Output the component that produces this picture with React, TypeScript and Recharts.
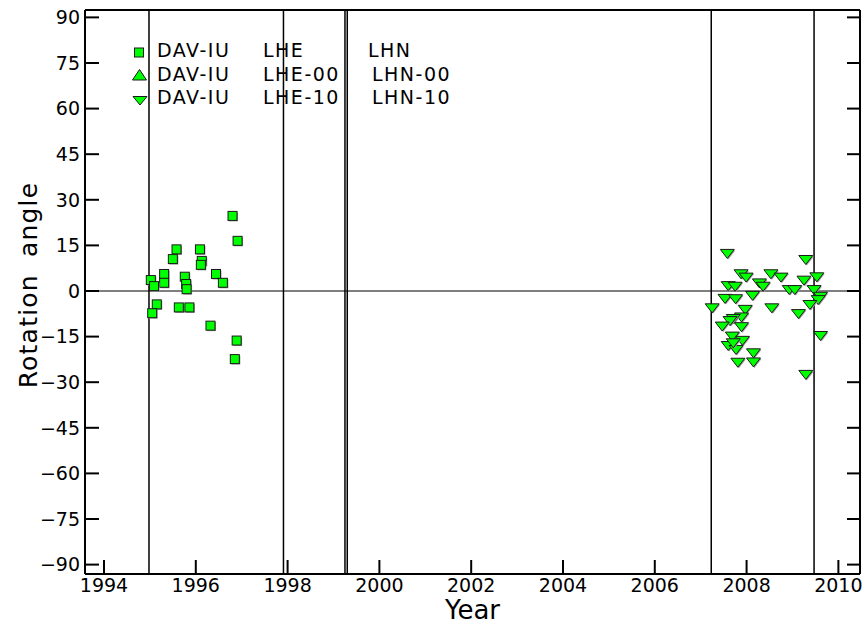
import React from 'react';
import { ScatterChart, Scatter, XAxis, YAxis, ReferenceLine, Legend } from 'recharts';

const FONT = '"DejaVu Sans", sans-serif';
const GREEN = '#00ff00';

// DAV-IU LHE / LHN (squares)
const lheYears = [1996.80, 1996.91, 1995.58, 1996.09, 1995.50, 1996.13, 1996.11, 1995.31, 1996.44, 1995.76, 1995.02, 1995.31, 1996.59, 1995.09, 1995.79, 1995.80, 1995.15, 1995.05, 1995.63, 1995.86, 1996.32, 1996.89, 1996.85];
const lheAngles = [24.7, 16.5, 13.7, 13.7, 10.5, 9.9, 8.6, 5.6, 5.6, 4.7, 3.6, 2.7, 2.7, 1.6, 2.3, 0.6, -4.4, -7.3, -5.4, -5.4, -11.4, -16.3, -22.4];

// DAV-IU LHE-00 / LHN-00 (up triangles) - nothing plotted
const lhe00Years: number[] = [];
const lhe00Angles: number[] = [];

// DAV-IU LHE-10 / LHN-10 (down triangles)
const lhe10Years = [2007.58, 2009.29, 2007.88, 2007.99, 2008.53, 2008.75, 2008.28, 2008.36, 2007.60, 2007.75, 2009.25, 2009.53, 2008.93, 2009.05, 2009.47, 2008.13, 2007.53, 2007.76, 2009.61, 2009.56, 2009.38, 2007.25, 2008.55, 2007.97, 2009.13, 2007.89, 2007.71, 2007.64, 2007.89, 2007.47, 2007.69, 2007.91, 2007.60, 2007.77, 2009.61, 2008.15, 2008.15, 2007.81, 2009.29, 2007.71];
const lhe10Angles = [12.2, 10.2, 5.5, 4.4, 5.5, 4.4, 2.5, 1.4, 1.6, 1.4, 3.4, 4.5, 0.3, 0.3, 0.3, -1.6, -2.6, -2.7, -1.9, -3.0, -4.6, -5.7, -5.7, -6.2, -7.6, -8.7, -9.2, -9.9, -11.9, -11.7, -15.0, -16.4, -18.1, -19.4, -14.8, -20.5, -23.5, -23.6, -27.6, -17.2];

// epoch boundaries (vertical lines)
const epochs = [1994.98, 1997.91, 1999.25, 1999.30, 2007.23, 2009.47];

const xTicks = [1994, 1996, 1998, 2000, 2002, 2004, 2006, 2008, 2010];
const yTicks = [-90, -75, -60, -45, -30, -15, 0, 15, 30, 45, 60, 75, 90];

const zip = (xs: number[], ys: number[]) => xs.map((x, i) => ({ x, y: ys[i] }));

const SquareMark = (props: any) => {
  const { cx, cy } = props;
  if (cx == null || cy == null) return <g />;
  return (
    <g>
      <rect x={cx - 3.5} y={cy - 3.5} width={9} height={9} fill="#9a9a9a" />
      <rect x={cx - 4.5} y={cy - 4.5} width={9} height={9} fill={GREEN} stroke="#1a1a1a" strokeWidth={1} />
    </g>
  );
};

const DownMark = (props: any) => {
  const { cx, cy } = props;
  if (cx == null || cy == null) return <g />;
  const pts = (dx: number, dy: number) =>
    `${cx - 7 + dx},${cy - 4.5 + dy} ${cx + 7 + dx},${cy - 4.5 + dy} ${cx + dx},${cy + 4.5 + dy}`;
  return (
    <g>
      <polygon points={pts(1, 1)} fill="#9a9a9a" />
      <polygon points={pts(0, 0)} fill={GREEN} stroke="#1a1a1a" strokeWidth={1} />
    </g>
  );
};

const UpMark = (props: any) => {
  const { cx, cy } = props;
  if (cx == null || cy == null) return <g />;
  return <polygon points={`${cx - 7},${cy + 5} ${cx + 7},${cy + 5} ${cx},${cy - 5}`} fill={GREEN} stroke="#1a1a1a" strokeWidth={1} />;
};

const Blank = () => <g />;

const legendRows = [
  { a: 'DAV-IU', b: 'LHE', c: 'LHN', cx: 368, y: 57 },
  { a: 'DAV-IU', b: 'LHE-00', c: 'LHN-00', cx: 372, y: 80.5 },
  { a: 'DAV-IU', b: 'LHE-10', c: 'LHN-10', cx: 372, y: 104 },
];

const LegendBox = () => (
  <svg width={866} height={120} style={{ display: 'block' }}>
    <rect x={134.5} y={48} width={9} height={9} fill={GREEN} stroke="#1a1a1a" strokeWidth={1} />
    <polygon points="132.5,80 146.5,80 139.5,69.5" fill={GREEN} stroke="#1a1a1a" strokeWidth={1} />
    <polygon points="133,96.5 147,96.5 140,105" fill={GREEN} stroke="#1a1a1a" strokeWidth={1} />
    {legendRows.map((r, i) => (
      <g key={i} fontFamily={FONT} fontSize={19} fill="#000" letterSpacing={1.5}>
        <text x={157} y={r.y}>{r.a}</text>
        <text x={263} y={r.y}>{r.b}</text>
        <text x={r.cx} y={r.y}>{r.c}</text>
      </g>
    ))}
  </svg>
);

const YLabel = () => (
  <text
    x={37}
    y={285}
    transform="rotate(-90, 37, 285)"
    textAnchor="middle"
    fontFamily={FONT}
    fontSize={25}
    fill="#000"
    letterSpacing={1.2}
    wordSpacing={8}
  >
    Rotation angle
  </text>
);

const minus = (v: number) => (v < 0 ? `\u2212${Math.abs(v)}` : `${v}`);

const axisLine = { stroke: '#000', strokeWidth: 2 };
const tickStyle = { fontSize: 19, fill: '#000', fontFamily: FONT };

export default function App() {
  return (
    <div style={{ position: 'absolute', left: 0, top: 0, width: 866, height: 626, background: '#fff' }}>
      <ScatterChart width={866} height={626} margin={{ top: 0, right: 0, bottom: 0, left: 0 }}>
        <XAxis
          xAxisId="b"
          type="number"
          dataKey="x"
          domain={[1993.586, 2010.471]}
          ticks={xTicks}
          allowDataOverflow
          height={52}
          tickSize={-14}
          tickMargin={19}
          axisLine={axisLine}
          tickLine={axisLine}
          tick={tickStyle}
          label={{ value: 'Year', position: 'insideBottom', offset: 7, fontSize: 26, fill: '#000', fontFamily: FONT }}
        />
        <XAxis
          xAxisId="t"
          orientation="top"
          type="number"
          domain={[1993.586, 2010.471]}
          ticks={xTicks}
          allowDataOverflow
          height={10}
          tickSize={-14}
          axisLine={axisLine}
          tickLine={axisLine}
          tick={<Blank />}
        />
        <YAxis
          yAxisId="l"
          type="number"
          dataKey="y"
          domain={[-93.09, 92.43]}
          ticks={yTicks}
          allowDataOverflow
          width={85}
          tickSize={-14}
          tickMargin={19}
          axisLine={axisLine}
          tickLine={axisLine}
          tick={tickStyle}
          tickFormatter={minus}
          label={<YLabel />}
        />
        <YAxis
          yAxisId="r"
          orientation="right"
          type="number"
          domain={[-93.09, 92.43]}
          ticks={yTicks}
          allowDataOverflow
          width={6}
          tickSize={-13}
          axisLine={axisLine}
          tickLine={axisLine}
          tick={<Blank />}
        />
        <ReferenceLine xAxisId="b" yAxisId="l" y={0} stroke="#000" strokeWidth={1.2} />
        {epochs.map((e) => (
          <ReferenceLine key={e} xAxisId="b" yAxisId="l" x={e} stroke="#000" strokeWidth={1.5} />
        ))}
        <Scatter name="LHE" xAxisId="b" yAxisId="l" data={zip(lheYears, lheAngles)} shape={SquareMark} isAnimationActive={false} />
        <Scatter name="LHE-00" xAxisId="b" yAxisId="l" data={zip(lhe00Years, lhe00Angles)} shape={UpMark} isAnimationActive={false} />
        <Scatter name="LHE-10" xAxisId="b" yAxisId="l" data={zip(lhe10Years, lhe10Angles)} shape={DownMark} isAnimationActive={false} />
        <Legend
          layout="vertical"
          align="center"
          verticalAlign="middle"
          wrapperStyle={{ top: 0, left: 0, width: 866, height: 120 }}
          content={<LegendBox />}
        />
      </ScatterChart>
    </div>
  );
}
